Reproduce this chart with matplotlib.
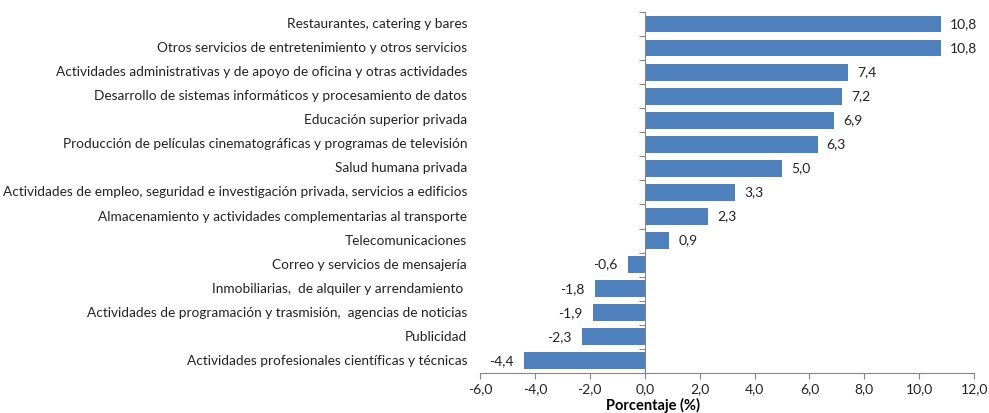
import matplotlib
matplotlib.use("Agg")
import matplotlib.pyplot as plt
from matplotlib.ticker import FuncFormatter

categories = [
    "Restaurantes, catering y bares",
    "Otros servicios de entretenimiento y otros servicios",
    "Actividades administrativas y de apoyo de oficina y otras actividades",
    "Desarrollo de sistemas informáticos y procesamiento de datos",
    "Educación superior privada",
    "Producción de películas cinematográficas y programas de televisión",
    "Salud humana privada",
    "Actividades de empleo, seguridad e investigación privada, servicios a edificios",
    "Almacenamiento y actividades complementarias al transporte",
    "Telecomunicaciones",
    "Correo y servicios de mensajería",
    "Inmobiliarias,  de alquiler y arrendamiento ",
    "Actividades de programación y trasmisión,  agencias de noticias",
    "Publicidad",
    "Actividades profesionales científicas y técnicas",
]
values = [10.8, 10.8, 7.4, 7.2, 6.9, 6.3, 5.0, 3.3, 2.3, 0.9, -0.6, -1.8, -1.9, -2.3, -4.4]

BAR = "#4F81BD"
GRID = "#868686"
plt.rcParams["font.family"] = ["Lato", "DejaVu Sans"]

fig = plt.figure(figsize=(9.89, 4.13), dpi=100)
ax = fig.add_axes([0.4853, 0.097, 0.4997, 0.874])

n = len(categories)
ypos = list(range(n))
ax.barh(ypos, values, height=0.7, color=BAR)
ax.set_ylim(n - 0.5, -0.5)
ax.set_xlim(-6, 12)
ax.set_xticks(range(-6, 13, 2))
ax.xaxis.set_major_formatter(FuncFormatter(lambda v, p: f"{v:.1f}".replace(".", ",")))

# category labels, right-aligned left of the plot area
for y, lab in zip(ypos, categories):
    ax.text(-0.026, y, lab, transform=ax.get_yaxis_transform(), ha="right",
            va="center", fontsize=9.8, color="#222222")

# value labels
for y, v in zip(ypos, values):
    s = f"{v:.1f}".replace(".", ",")
    if v >= 0:
        ax.text(v + 0.33, y, s, ha="left", va="center", fontsize=10, color="#222222")
    else:
        ax.text(v - 0.38, y, s, ha="right", va="center", fontsize=10, color="#222222")

# axes styling
for side in ("top", "right"):
    ax.spines[side].set_visible(False)
ax.spines["left"].set_position(("data", 0))
ax.spines["left"].set_color(GRID)
ax.spines["bottom"].set_color(GRID)
ax.set_yticks([i - 0.5 for i in range(n + 1)])
ax.set_yticklabels([])
ax.tick_params(axis="y", direction="out", length=4, color=GRID)
ax.tick_params(axis="x", direction="out", length=4, color=GRID, labelsize=10,
               labelcolor="#222222", pad=3)
ax.set_xlabel("Porcentaje (%)", fontsize=10.5, fontweight="bold", labelpad=3)
ax.xaxis.set_label_coords(0.35, -0.07)

fig.savefig("out.png", dpi=100)
